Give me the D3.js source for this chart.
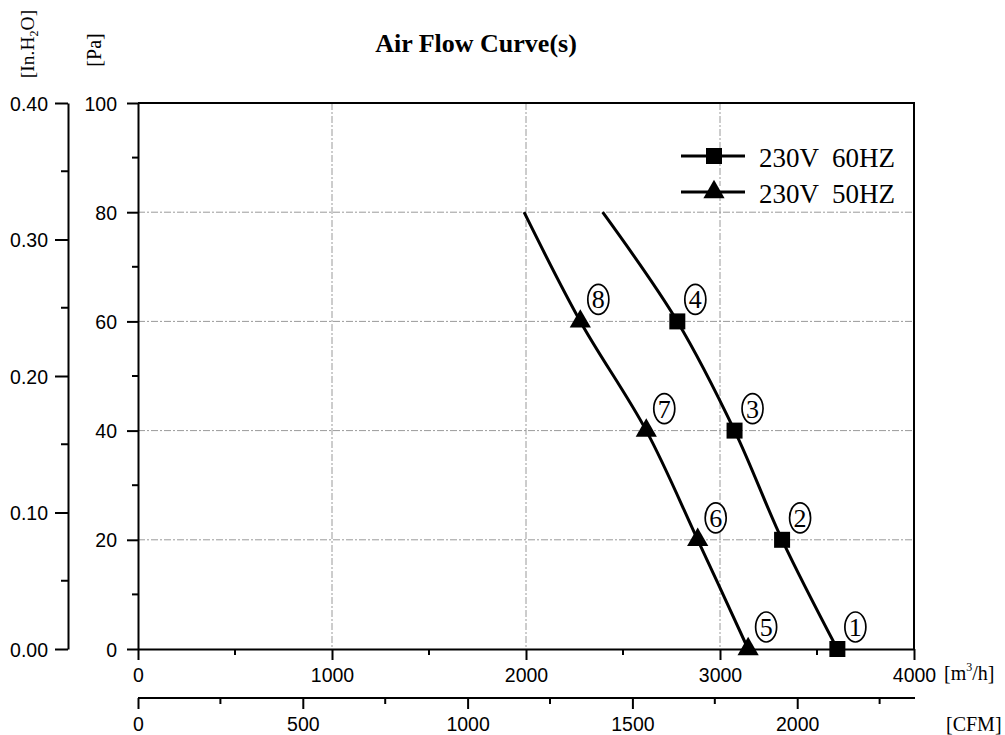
<!DOCTYPE html>
<html>
<head>
<meta charset="utf-8">
<script src="https://cdn.jsdelivr.net/npm/d3@7"></script>
<style>
  html, body { margin: 0; padding: 0; background: #fff; }
  svg { display: block; }
</style>
</head>
<body>
<svg id="chart" width="1005" height="735"></svg>
<script>
// ---------- data ----------
const pressurePa = [0, 20, 40, 60, 80];
const flow60 = [3605, 3320, 3075, 2780, 2395];   // m3/h, 230V 60HZ
const flow50 = [3145, 2885, 2620, 2280, 1990];   // m3/h, 230V 50HZ
const markedPoints = 4;                          // first 4 points carry markers
const labels60 = ["1", "2", "3", "4"];
const labels50 = ["5", "6", "7", "8"];
const seriesNames = ["230V  60HZ", "230V  50HZ"];
const xTicksM3h = [0, 1000, 2000, 3000, 4000];
const xMinorM3h = [500, 1500, 2500, 3500];
const yTicksPa = [0, 20, 40, 60, 80, 100];
const yMinorPa = [10, 30, 50, 70, 90];
const yTicksInH2O = [0, 0.1, 0.2, 0.3, 0.4];
const yMinorInH2O = [0.05, 0.15, 0.25, 0.35];
const xTicksCFM = [0, 500, 1000, 1500, 2000];
const xMinorCFM = [250, 750, 1250, 1750, 2250];
const CFM_TO_M3H = 1.699;

// ---------- layout ----------
const svg = d3.select("#chart");
const L = 138, R = 914, T = 103, B = 649;
const x = d3.scaleLinear().domain([0, 4000]).range([L, R]);
const y = d3.scaleLinear().domain([0, 100]).range([B, T]);
const yIn = d3.scaleLinear().domain([0, 0.4]).range([B, T]);
const xCFM = d3.scaleLinear().domain([0, 4000 / CFM_TO_M3H]).range([L, R]);

const sans = "'Liberation Sans', Arial, sans-serif";
const serif = "'Liberation Serif', 'Times New Roman', serif";
const tickFont = 19.5;

// ---------- grid ----------
const gridG = svg.append("g").attr("stroke", "#9a9a9a").attr("stroke-width", 1)
  .attr("stroke-dasharray", "7,2,2,2");
gridG.selectAll("line.v").data([1000, 2000, 3000]).join("line")
  .attr("x1", d => x(d)).attr("x2", d => x(d)).attr("y1", T).attr("y2", B);
gridG.selectAll("line.h").data([20, 40, 60, 80]).join("line")
  .attr("x1", L).attr("x2", R).attr("y1", d => y(d)).attr("y2", d => y(d));

// ---------- axes ----------
function styleAxis(g) {
  g.select(".domain").attr("stroke", "#000").attr("stroke-width", 2);
  g.selectAll(".tick line").attr("stroke", "#000").attr("stroke-width", 2);
  g.selectAll(".tick text").attr("font-family", sans).attr("font-size", tickFont).attr("fill", "#000");
}

// Pa axis
const gPa = svg.append("g").attr("transform", `translate(${L},0)`)
  .call(d3.axisLeft(y).tickValues(yTicksPa).tickSize(11).tickPadding(10).tickSizeOuter(0).tickFormat(d3.format("d")));
styleAxis(gPa);
gPa.selectAll(".tick text").attr("dy", "0.36em");
gPa.append("g").selectAll("line").data(yMinorPa).join("line")
  .attr("x1", -6).attr("x2", 0).attr("y1", d => y(d)).attr("y2", d => y(d))
  .attr("stroke", "#000").attr("stroke-width", 2);

// inH2O axis
const gIn = svg.append("g").attr("transform", `translate(68,0)`)
  .call(d3.axisLeft(yIn).tickValues(yTicksInH2O).tickSize(13).tickPadding(7).tickSizeOuter(0).tickFormat(d3.format(".2f")));
styleAxis(gIn);
gIn.selectAll(".tick text").attr("dy", "0.36em");
gIn.append("g").selectAll("line").data(yMinorInH2O).join("line")
  .attr("x1", -7).attr("x2", 0).attr("y1", d => yIn(d)).attr("y2", d => yIn(d))
  .attr("stroke", "#000").attr("stroke-width", 2);

// m3/h axis
const gX = svg.append("g").attr("transform", `translate(0,${B})`)
  .call(d3.axisBottom(x).tickValues(xTicksM3h).tickSize(11).tickPadding(8).tickSizeOuter(0).tickFormat(d3.format("d")));
styleAxis(gX);
gX.append("g").selectAll("line").data(xMinorM3h).join("line")
  .attr("x1", d => x(d)).attr("x2", d => x(d)).attr("y1", 0).attr("y2", 6)
  .attr("stroke", "#000").attr("stroke-width", 2);

// CFM axis
const gC = svg.append("g").attr("transform", `translate(0,698)`)
  .call(d3.axisBottom(xCFM).tickValues(xTicksCFM).tickSize(11).tickPadding(8).tickSizeOuter(0).tickFormat(d3.format("d")));
styleAxis(gC);
gC.select(".domain").attr("d", `M${L},0H${R + 1}`);
gC.append("g").selectAll("line").data(xMinorCFM).join("line")
  .attr("x1", d => xCFM(d)).attr("x2", d => xCFM(d)).attr("y1", 0).attr("y2", 6)
  .attr("stroke", "#000").attr("stroke-width", 2);

// frame top and right
svg.append("path").attr("d", `M${L},${T}H${R}V${B}`)
  .attr("fill", "none").attr("stroke", "#000").attr("stroke-width", 2);

// ---------- titles ----------
svg.append("text").attr("x", 476).attr("y", 52).attr("text-anchor", "middle")
  .attr("font-family", serif).attr("font-weight", "bold").attr("font-size", 26)
  .text("Air Flow Curve(s)");

const tIn = svg.append("text").attr("transform", "translate(34,44) rotate(-90)")
  .attr("text-anchor", "middle").attr("font-family", serif).attr("font-size", 19.5);
tIn.append("tspan").text("[In.H");
tIn.append("tspan").attr("font-size", 12).attr("dy", 4).text("2");
tIn.append("tspan").attr("dy", -4).text("O]");

svg.append("text").attr("transform", "translate(101,50) rotate(-90)")
  .attr("text-anchor", "middle").attr("font-family", serif).attr("font-size", 20).text("[Pa]");

const tM = svg.append("text").attr("x", 944).attr("y", 680)
  .attr("font-family", serif).attr("font-size", 20);
tM.append("tspan").text("[m");
tM.append("tspan").attr("font-size", 12).attr("dy", -9).text("3");
tM.append("tspan").attr("dy", 9).text("/h]");

svg.append("text").attr("x", 946).attr("y", 731)
  .attr("font-family", serif).attr("font-size", 20).text("[CFM]");

// ---------- curves ----------
const line = d3.line().curve(d3.curveCatmullRom.alpha(0.5))
  .x(d => x(d[0])).y(d => y(d[1]));
const pts60 = flow60.map((f, i) => [f, pressurePa[i]]);
const pts50 = flow50.map((f, i) => [f, pressurePa[i]]);
[pts60, pts50].forEach(p => {
  svg.append("path").attr("d", line(p)).attr("fill", "none")
    .attr("stroke", "#000").attr("stroke-width", 3).attr("stroke-linejoin", "round");
});

const sq = d3.symbol().type(d3.symbolSquare).size(256);
const tri = d3.symbol().type(d3.symbolTriangle).size(195);

svg.append("g").selectAll("path").data(pts60.slice(0, markedPoints)).join("path")
  .attr("d", sq).attr("transform", d => `translate(${x(d[0])},${y(d[1])})`).attr("fill", "#000");
svg.append("g").selectAll("path").data(pts50.slice(0, markedPoints)).join("path")
  .attr("d", tri).attr("transform", d => `translate(${x(d[0])},${y(d[1])})`).attr("fill", "#000");

// circled point numbers
function circled(points, labels) {
  const g = svg.append("g");
  points.forEach((d, i) => {
    const cx = x(d[0]) + 18, cy = y(d[1]) - 22;
    g.append("ellipse").attr("cx", cx).attr("cy", cy).attr("rx", 10.5).attr("ry", 15)
      .attr("fill", "#fff").attr("stroke", "#000").attr("stroke-width", 1.7);
    g.append("text").attr("x", cx).attr("y", cy + 9).attr("text-anchor", "middle")
      .attr("font-family", serif).attr("font-size", 26).text(labels[i]);
  });
}
circled(pts60.slice(0, markedPoints), labels60);
circled(pts50.slice(0, markedPoints), labels50);

// ---------- legend ----------
const legY = [156, 192];
seriesNames.forEach((name, i) => {
  const g = svg.append("g").attr("transform", `translate(0,${legY[i]})`);
  g.append("rect").attr("x", 679).attr("y", -6).attr("width", 70).attr("height", 12).attr("fill", "#fff");
  g.append("line").attr("x1", 681).attr("x2", 745).attr("y1", 0).attr("y2", 0)
    .attr("stroke", "#000").attr("stroke-width", 3);
  g.append("path").attr("d", i === 0 ? sq : tri).attr("transform", "translate(714,0)").attr("fill", "#000");
  g.append("text").attr("x", 759).attr("y", 11).attr("font-family", serif).attr("font-size", 27)
    .attr("textLength", 136).attr("lengthAdjust", "spacingAndGlyphs")
    .style("white-space", "pre").text(name);
});
</script>
</body>
</html>
